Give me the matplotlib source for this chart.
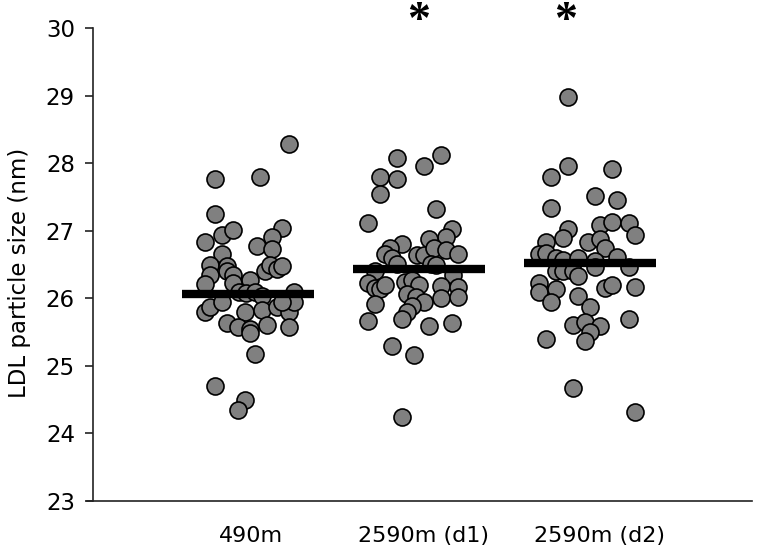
#!/usr/bin/env python3
# LDL particle size dot plot

import numpy as np
import matplotlib.pyplot as plt

groups = ["490m", "2590m (d1)", "2590m (d2)"]
label_pos = [1.015, 2.026, 3.058]
means = [26.06, 26.43, 26.52]

# values (nm)
g1_vals = [28.29, 27.76, 27.80, 27.24, 26.83, 26.93, 27.01, 27.04, 26.91, 26.77,
           26.73, 26.65, 26.49, 26.48, 26.41, 26.35, 26.34, 26.41, 26.49, 26.44,
           26.48, 26.21, 26.27, 26.23, 26.09, 26.08, 26.09, 26.04, 26.09, 25.80,
           25.87, 25.95, 25.80, 25.83, 25.87, 25.80, 25.95, 25.95, 25.64, 25.58,
           25.55, 25.48, 25.61, 25.58, 25.17, 24.70, 24.50, 24.35]
g1_jit = [0.24, -0.19, 0.07, -0.19, -0.25, -0.15, -0.09, 0.20, 0.14, 0.05,
          0.14, -0.15, -0.22, -0.12, -0.12, -0.22, -0.09, 0.10, 0.13, 0.17,
          0.20, -0.25, 0.01, -0.09, -0.05, -0.01, 0.04, 0.08, 0.27, -0.25,
          -0.22, -0.15, -0.02, 0.08, 0.17, 0.24, 0.27, 0.20, -0.12, -0.06,
          0.01, 0.01, 0.11, 0.24, 0.04, -0.19, -0.02, -0.06]

g2_vals = [28.08, 28.12, 27.96, 27.80, 27.76, 27.55, 27.32, 27.11, 27.02, 26.90,
           26.88, 26.80, 26.75, 26.65, 26.59, 26.64, 26.64, 26.74, 26.71, 26.65,
           26.50, 26.51, 26.49, 26.41, 26.34, 26.23, 26.15, 26.14, 26.19, 26.24,
           26.27, 26.20, 26.18, 26.17, 26.07, 26.02, 25.95, 26.00, 26.02, 25.91,
           25.89, 25.80, 25.69, 25.66, 25.59, 25.64, 25.30, 25.16, 24.24]
g2_jit = [-0.13, 0.13, 0.03, -0.23, -0.13, -0.23, 0.10, -0.30, 0.19, 0.16,
          0.06, -0.10, -0.17, -0.20, -0.16, -0.01, 0.03, 0.09, 0.16, 0.23,
          -0.13, 0.07, 0.10, -0.26, 0.20, -0.30, -0.26, -0.23, -0.20, -0.08,
          -0.04, 0.00, 0.13, 0.23, -0.07, -0.02, 0.03, 0.13, 0.23, -0.26,
          -0.04, -0.07, -0.10, -0.30, 0.06, 0.19, -0.16, -0.03, -0.10]

g3_vals = [28.98, 27.96, 27.80, 27.91, 27.52, 27.45, 27.34, 27.02, 26.89, 27.08,
           27.13, 27.11, 26.94, 26.83, 26.88, 26.74, 26.83, 26.66, 26.67, 26.59,
           26.56, 26.59, 26.55, 26.61, 26.46, 26.46, 26.41, 26.41, 26.41, 26.33,
           26.22, 26.09, 26.14, 25.95, 26.15, 26.19, 26.16, 26.03, 25.87, 25.61,
           25.65, 25.59, 25.50, 25.37, 25.69, 25.40, 24.67, 24.31]
g3_jit = [-0.13, -0.13, -0.23, 0.13, 0.03, 0.16, -0.23, -0.13, -0.16, 0.06,
          0.13, 0.23, 0.26, -0.01, 0.06, 0.09, -0.26, -0.30, -0.26, -0.20,
          -0.16, -0.07, 0.03, 0.16, 0.03, 0.23, -0.20, -0.16, -0.10, -0.07,
          -0.30, -0.30, -0.20, -0.23, 0.09, 0.13, 0.26, -0.07, 0.00, -0.10,
          -0.03, 0.06, 0.00, -0.03, 0.23, -0.26, -0.10, 0.26]

# significance marks (x position, baseline level)
star_x = [2.0, 2.858]
star_y = [29.93, 29.93]

values = [g1_vals, g2_vals, g3_vals]
jitter = [g1_jit, g2_jit, g3_jit]


def main():
    plt.rcParams["font.family"] = ["DejaVu Sans"]
    fig = plt.figure(figsize=(7.6, 5.54), dpi=100)
    ax = fig.add_axes([0.1224, 0.0957, 0.8671, 0.8538])

    for i, (vals, jit) in enumerate(zip(values, jitter)):
        x = i + 1 + np.array(jit)
        ax.scatter(x, vals, s=150, c="#808080", edgecolors="black",
                   linewidths=1.2, zorder=2)
        ax.plot([i + 1 - 0.386, i + 1 + 0.386], [means[i], means[i]],
                color="black", lw=6, solid_capstyle="butt", zorder=3)

    for sx, sy in zip(star_x, star_y):
        ax.text(sx, sy, "*", fontsize=33, fontweight="bold", ha="center",
                va="baseline", family="Liberation Serif", clip_on=False)

    ax.set_xlim(0.094, 3.947)
    ax.set_ylim(23, 30)
    ax.set_yticks(range(23, 31))
    ax.set_xticks(label_pos)
    ax.set_xticklabels(groups, fontsize=16)
    ax.tick_params(axis="x", length=0, pad=18)
    ax.tick_params(axis="y", labelsize=16.5, length=6, width=1.2,
                   direction="out", pad=7, color="#222222")
    ax.set_ylabel("LDL particle size (nm)", fontsize=16.5, va="center")
    ax.yaxis.set_label_coords(-0.111, 0.482)

    for s in ["top", "right"]:
        ax.spines[s].set_visible(False)
    ax.spines["left"].set_linewidth(1.2)
    ax.spines["bottom"].set_linewidth(1.2)
    ax.spines["left"].set_color("#222222")
    ax.spines["bottom"].set_color("#222222")
    ax.spines["bottom"].set_bounds(0.06, 3.947)

    fig.savefig("out.png", dpi=100)


if __name__ == "__main__":
    main()
